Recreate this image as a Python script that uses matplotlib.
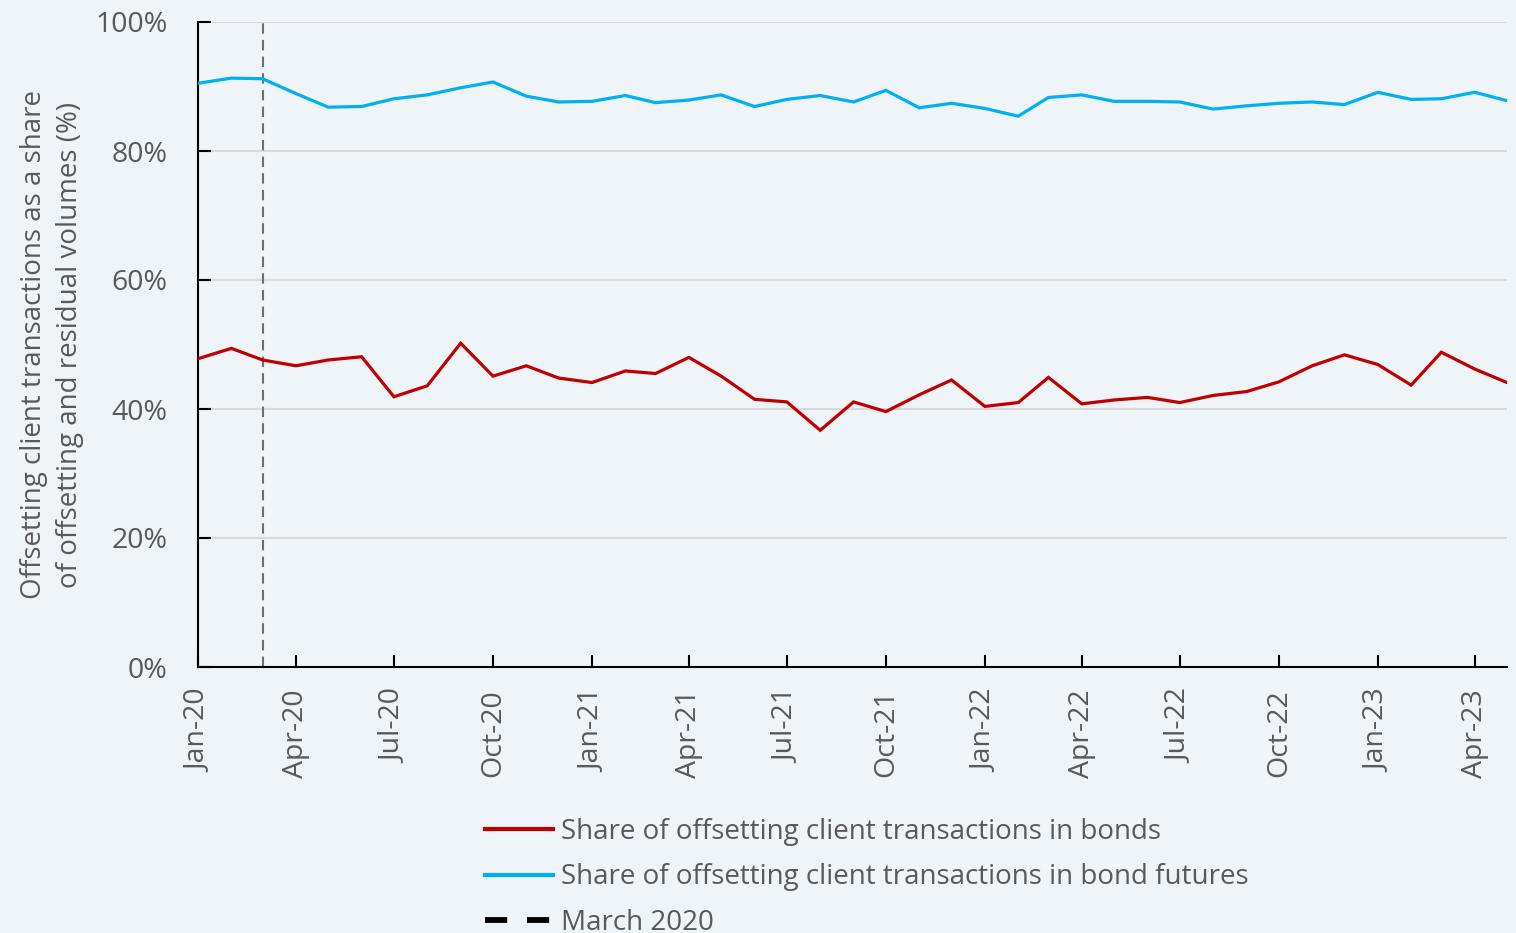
import matplotlib
matplotlib.use("Agg")
import matplotlib.pyplot as plt
import matplotlib.dates as mdates
import pandas as pd
from matplotlib.lines import Line2D

months = pd.date_range("2020-01-01", "2023-05-01", freq="MS")

bonds = [47.8, 49.4, 47.6, 46.7, 47.6, 48.1, 41.9, 43.6, 50.2, 45.1, 46.7, 44.8,
         44.1, 45.9, 45.5, 48.0, 45.1, 41.5, 41.1, 36.7, 41.1, 39.6, 42.2, 44.5,
         40.4, 41.0, 44.9, 40.8, 41.4, 41.8, 41.0, 42.1, 42.7, 44.2, 46.7, 48.4,
         46.9, 43.7, 48.8, 46.2, 44.1]
futures = [90.5, 91.3, 91.2, 88.9, 86.8, 86.9, 88.1, 88.7, 89.8, 90.7, 88.5, 87.6,
           87.7, 88.6, 87.5, 87.9, 88.7, 86.9, 88.0, 88.6, 87.6, 89.4, 86.7, 87.4,
           86.6, 85.4, 88.3, 88.7, 87.7, 87.7, 87.6, 86.5, 87.0, 87.4, 87.6, 87.2,
           89.1, 88.0, 88.1, 89.1, 87.8]
yticks = [0, 20, 40, 60, 80, 100]
event_date = pd.Timestamp("2020-03-01")

labels = ["Share of offsetting client transactions in bonds",
          "Share of offsetting client transactions in bond futures",
          "March 2020"]

BG = "#eff4f9"
TXT = "#595959"
RED = "#c00000"
BLUE = "#00b0f0"
FS = 20.5

plt.rcParams["font.family"] = ["Open Sans", "DejaVu Sans"]

fig = plt.figure(figsize=(15.16, 9.33), dpi=100, facecolor=BG)
ax = fig.add_axes([198/1516, 1-667/933, (1507-198)/1516, (667-22)/933])
ax.set_facecolor(BG)

ax.plot(months, bonds, color=RED, lw=2.3, solid_joinstyle="miter", zorder=3)
ax.plot(months, futures, color=BLUE, lw=2.3, solid_joinstyle="miter", zorder=3)
ax.axvline(event_date, color="#6f6f6f", lw=1.5, ls=(0, (5, 3)), zorder=2)

ax.set_ylim(0, 100)
ax.set_xlim(months[0], months[-1])
ax.set_yticks(yticks)
ax.set_yticklabels([f"{v}%" for v in yticks])
ax.yaxis.grid(True, color="#d9d9d9", lw=1.5)
ax.set_axisbelow(True)

ax.xaxis.set_major_locator(mdates.MonthLocator(bymonth=[1, 4, 7, 10]))
ax.xaxis.set_major_formatter(mdates.DateFormatter("%b-%y"))
plt.setp(ax.get_xticklabels(), rotation=90)

for s in ["top", "right"]:
    ax.spines[s].set_visible(False)
for s in ["left", "bottom"]:
    ax.spines[s].set_color("black")
    ax.spines[s].set_linewidth(1.5)

ax.tick_params(axis="both", direction="in", length=9, width=1.5, color="black",
               labelcolor=TXT, labelsize=FS)
ax.tick_params(axis="x", pad=16)
ax.tick_params(axis="y", pad=22)

ax.set_ylabel("Offsetting client transactions as a share\nof offsetting and residual volumes (%)",
              color=TXT, fontsize=20, labelpad=8, linespacing=1.4)

handles = [Line2D([], [], color=RED, lw=3),
           Line2D([], [], color=BLUE, lw=3),
           Line2D([], [], color="black", lw=4.2, ls=(0, (3.8, 3.4)))]
leg = fig.legend(handles, labels, loc="upper left",
                 bbox_to_anchor=(474/1516, 1-807/933), frameon=False,
                 fontsize=20, labelcolor=TXT, handlelength=2.45,
                 handletextpad=0.28, labelspacing=0.62, borderaxespad=0)

fig.savefig("out.png", dpi=100, facecolor=BG)
